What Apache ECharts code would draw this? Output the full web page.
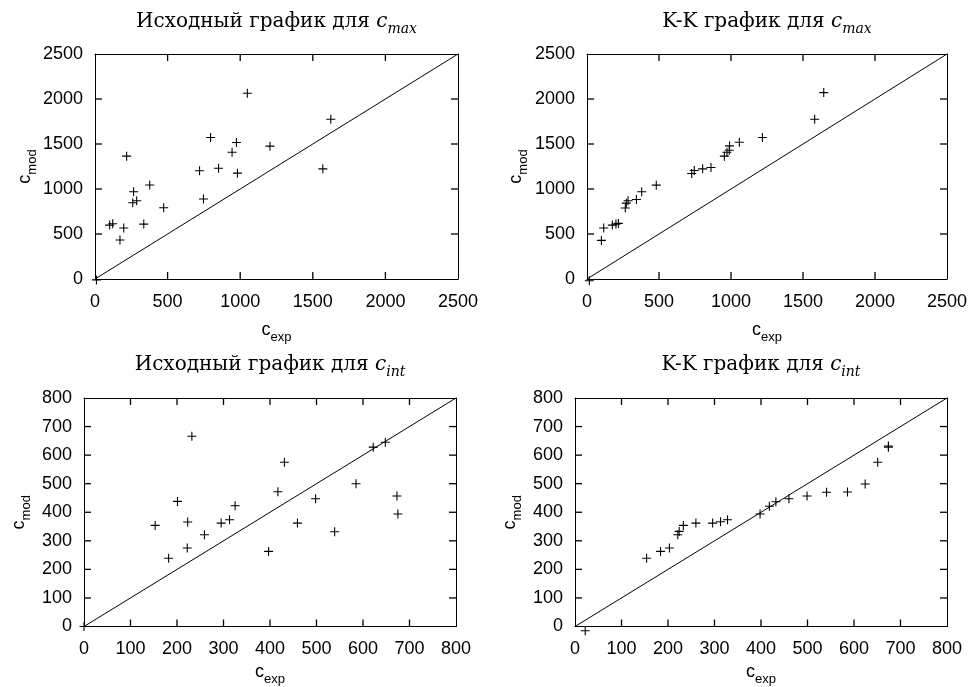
<!DOCTYPE html>
<html><head><meta charset="utf-8">
<script src="https://cdn.jsdelivr.net/npm/echarts@6/dist/echarts.min.js"></script>
<style>html,body{margin:0;padding:0;background:#fff}#c{width:971px;height:687px}</style>
</head><body><div id="c"></div>
<script>
// ---- data ----
const maxExp = [10, 101, 122, 172, 198, 218, 260, 266, 287, 336, 377, 473, 720, 747, 796, 851, 944, 974, 981, 1049, 1205, 1569, 1624];
const maxMod = [-10, 599, 614, 433, 567, 1365, 847, 969, 869, 610, 1045, 791, 1202, 888, 1572, 1231, 1409, 1516, 1176, 2064, 1476, 1224, 1775];

const kkMaxExp = [16, 100, 116, 176, 201, 218, 266, 273, 285, 343, 380, 481, 727, 745, 803, 861, 954, 972, 988, 990, 1058, 1218, 1581, 1644];
const kkMaxMod = [-20, 429, 566, 599, 610, 618, 788, 843, 869, 884, 969, 1043, 1172, 1206, 1224, 1239, 1365, 1409, 1431, 1479, 1520, 1572, 1775, 2071];

const intExp = [0, 153, 182, 201, 222, 223, 232, 259, 295, 313, 325, 397, 417, 431, 459, 498, 539, 585, 622, 648, 673, 675];
const intMod = [0, 354, 239, 438, 275, 366, 666, 321, 362, 374, 423, 263, 472, 575, 362, 447, 332, 500, 628, 645, 457, 394];

const kkIntExp = [22, 154, 184, 203, 221, 224, 233, 260, 296, 313, 328, 398, 418, 432, 460, 499, 541, 586, 624, 651, 674, 674];
const kkIntMod = [-15, 239, 263, 275, 321, 333, 354, 362, 362, 367, 374, 394, 421, 437, 447, 457, 470, 471, 499, 575, 628, 632];

const maxAxisTicks = [0, 500, 1000, 1500, 2000, 2500];
const intAxisTicks = [0, 100, 200, 300, 400, 500, 600, 700, 800];

const titles = ['Исходный график для ', 'K-K график для ', 'Исходный график для ', 'K-K график для '];
const titleSubs = ['max', 'max', 'int', 'int'];
const xName = ['c', 'exp'];
const yName = ['c', 'mod'];

// ---- layout ----
const panels = [
  {grid: {left: 95, top: 54, width: 363, height: 225}, titleTop: 12, xs: maxExp, ys: maxMod, ticks: maxAxisTicks, xGap: 42, yGap: 47},
  {grid: {left: 587, top: 54, width: 360, height: 225}, titleTop: 12, xs: kkMaxExp, ys: kkMaxMod, ticks: maxAxisTicks, xGap: 42, yGap: 48},
  {grid: {left: 84, top: 398, width: 372, height: 229}, titleTop: 355, xs: intExp, ys: intMod, ticks: intAxisTicks, xGap: 37, yGap: 42},
  {grid: {left: 575, top: 398, width: 372, height: 229}, titleTop: 355, xs: kkIntExp, ys: kkIntMod, ticks: intAxisTicks, xGap: 37, yGap: 42}
];

const SANS = 'Liberation Sans';
const SERIF = 'DejaVu Serif';
const plus = 'path://M0,4.4H10V5.6H0Z M4.4,0H5.6V10H4.4Z';
// tick glyphs: a 1.3px x 7px bar whose far end sits on the symbol centre (so it points inward)
const tickUp = 'path://M0,0H1.3V14H0Z M0,7H1.3';
const vBar = 'path://M4.35,0H5.65V7H4.35Z M0,0 M10,14';
const hBar = 'path://M0,4.35H7V5.65H0Z M0,0 M14,10';

const nameRich = {
  c: {fontFamily: SANS, fontSize: 18, lineHeight: 20, verticalAlign: 'top', color: '#000'},
  s: {fontFamily: SANS, fontSize: 13, lineHeight: 32, color: '#000'}
};
const titleRich = {
  t: {fontFamily: SERIF, fontSize: 20, lineHeight: 22, verticalAlign: 'top', color: '#000'},
  i: {fontFamily: SERIF, fontSize: 20, fontStyle: 'italic', lineHeight: 22, verticalAlign: 'top', color: '#000'},
  s: {fontFamily: SERIF, fontSize: 14, fontStyle: 'italic', lineHeight: 34, color: '#000'}
};

const option = {
  backgroundColor: '#fff',
  animation: false,
  title: [], grid: [], xAxis: [], yAxis: [], series: []
};

panels.forEach((p, k) => {
  const lo = p.ticks[0], hi = p.ticks[p.ticks.length - 1], step = p.ticks[1] - p.ticks[0];
  option.grid.push(Object.assign({show: false}, p.grid));
  option.title.push({
    text: '{t|' + titles[k] + '}{i|c}{s|' + titleSubs[k] + '}',
    left: p.grid.left + p.grid.width / 2,
    textAlign: 'center',
    top: p.titleTop,
    padding: 0,
    textStyle: {fontFamily: SERIF, fontSize: 20, fontWeight: 'normal', color: '#000', rich: titleRich}
  });
  const mk = (extra) => Object.assign({
    gridIndex: k, type: 'value', min: lo, max: hi, interval: step,
    axisLine: {show: true, onZero: false, lineStyle: {color: '#000', width: 1}},
    axisTick: {show: false},
    splitLine: {show: false}
  }, extra);
  const lbl = () => ({show: true, color: '#000', fontFamily: SANS, fontSize: 18, formatter: v => String(v)});
  option.xAxis.push(mk({
    position: 'bottom',
    axisLabel: Object.assign(lbl(), {margin: 14}),
    name: '{c|' + xName[0] + '}{s|' + xName[1] + '}',
    nameLocation: 'middle', nameGap: p.xGap, nameMoveOverlap: false,
    nameTextStyle: {rich: nameRich}
  }));
  option.xAxis.push(mk({position: 'top', axisLabel: {show: false}}));
  option.yAxis.push(mk({
    position: 'left',
    axisLabel: Object.assign(lbl(), {margin: 12}),
    name: '{c|' + yName[0] + '}{s|' + yName[1] + '}',
    nameLocation: 'middle', nameGap: p.yGap, nameMoveOverlap: false,
    nameTextStyle: {rich: nameRich}
  }));
  option.yAxis.push(mk({position: 'right', axisLabel: {show: false}}));

  option.series.push({
    type: 'line', xAxisIndex: 2 * k, yAxisIndex: 2 * k,
    data: [[lo, lo], [hi, hi]], showSymbol: false, symbol: 'none', silent: true,
    lineStyle: {color: '#000', width: 1}
  });

  // inward tick marks on all four sides (gnuplot style), placed at the tick values
  const inner = p.ticks.slice(1, -1);
  const sides = [
    {data: inner.map(t => [t, lo]), sym: vBar, size: [10, 14], rot: 0},
    {data: inner.map(t => [t, hi]), sym: vBar, size: [10, 14], rot: 180},
    {data: inner.map(t => [lo, t]), sym: hBar, size: [14, 10], rot: 180},
    {data: inner.map(t => [hi, t]), sym: hBar, size: [14, 10], rot: 0}
  ];
  sides.forEach(s => option.series.push({
    type: 'scatter', xAxisIndex: 2 * k, yAxisIndex: 2 * k, clip: false, silent: true,
    data: s.data, symbol: s.sym, symbolSize: s.size, symbolRotate: s.rot, symbolKeepAspect: false,
    itemStyle: {color: '#000', opacity: 1}
  }));

  option.series.push({
    type: 'scatter', xAxisIndex: 2 * k, yAxisIndex: 2 * k, clip: false,
    data: p.xs.map((x, j) => [x, p.ys[j]]),
    symbol: plus, symbolSize: 9,
    itemStyle: {color: '#000', opacity: 1}, silent: true
  });
});

const chart = echarts.init(document.getElementById('c'), null, {renderer: 'canvas'});
chart.setOption(option);
</script>
</body></html>
